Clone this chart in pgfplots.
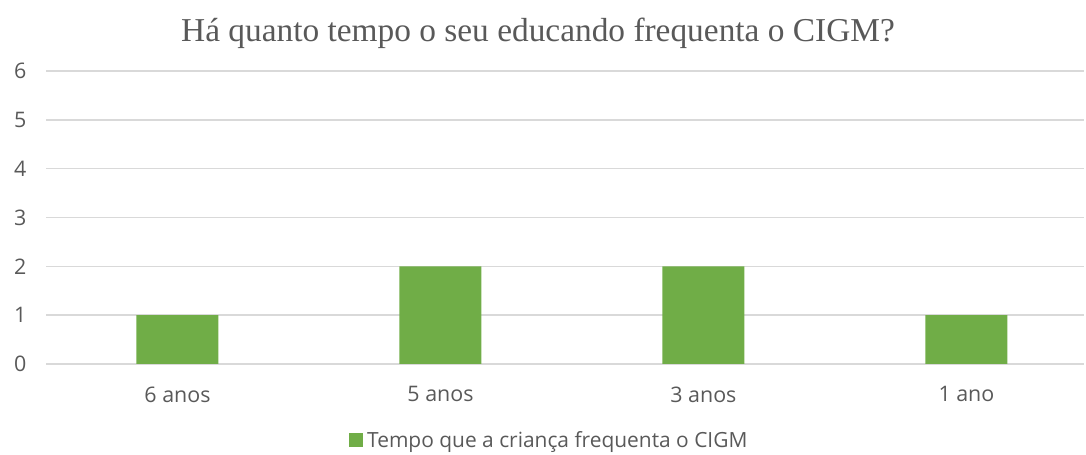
\documentclass[border=0pt]{standalone}
\usepackage{pgfplots}
\pgfplotsset{compat=1.18}
\usepackage{fontspec}
\setmainfont{Open Sans}
\newfontfamily\titlefont{Liberation Serif}
\definecolor{barGreen}{HTML}{70AD47}
\definecolor{gridGray}{HTML}{D9D9D9}
\definecolor{txtGray}{HTML}{595959}

\begin{document}
\begin{tikzpicture}
\useasboundingbox (0,0) rectangle (1086bp,455bp);
\begin{axis}[
 at={(46bp,91bp)}, anchor=south west,
 scale only axis,
 width=1038bp, height=293bp,
 ybar, bar width=82bp,
 xmin=-0.5, xmax=3.447,
 ymin=0, ymax=6,
 ytick={0,1,...,6},
 xtick={0,1,2,3},
 xticklabels={6 anos,5 anos,3 anos,1 ano},
 axis line style={draw=none},
 major tick length=0pt,
 ymajorgrids, grid style={gridGray, line width=1.5bp},
 tick label style={font=\fontsize{21.5}{24}\selectfont, text=txtGray},
 yticklabel style={anchor=east, xshift=-16bp},
 xticklabel style={yshift=-19bp},
 /pgf/number format/assume math mode=true,
 legend style={at={(0.289,-0.259)}, anchor=west, draw=none, fill=none,
   font=\fontsize{21}{24}\selectfont, text=txtGray,
   nodes={inner xsep=4bp}},
 legend image code/.code={\fill[barGreen] (0bp,-7bp) rectangle (14bp,7bp);},
]
\addplot[fill=barGreen, draw=none] coordinates {(0,1) (1,2) (2,2) (3,1)};
\legend{Tempo que a criança frequenta o CIGM}
\end{axis}
\node[text=txtGray, font=\titlefont\fontsize{33.5}{38}\selectfont] at (538bp,422bp) {Há quanto tempo o seu educando frequenta o CIGM?};
\end{tikzpicture}
\end{document}
